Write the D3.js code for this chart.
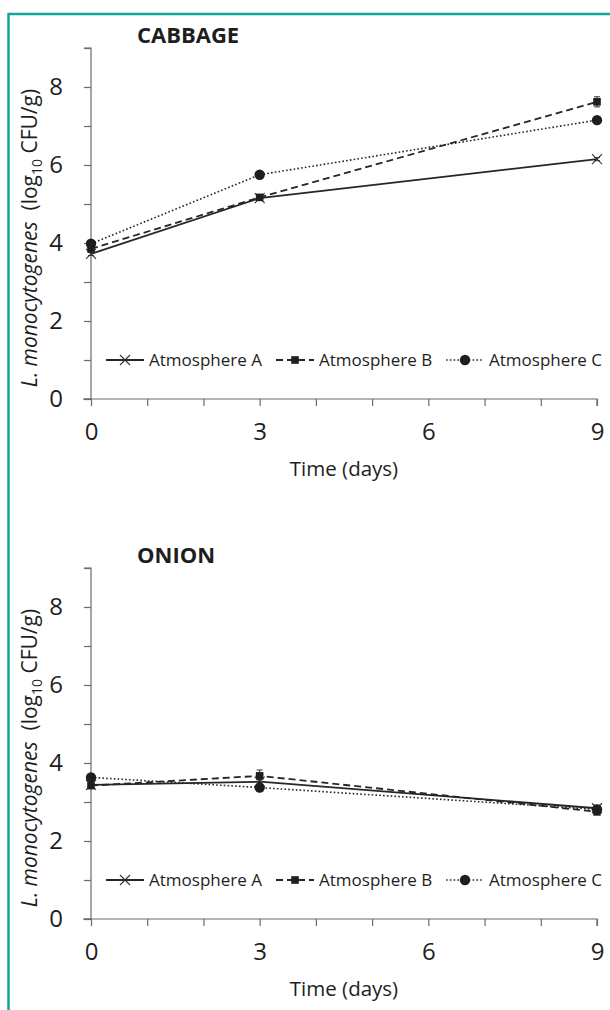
<!DOCTYPE html>
<html>
<head>
<meta charset="utf-8">
<script src="https://cdn.jsdelivr.net/npm/d3@7"></script>
<style>
body{margin:0;background:#fff}
svg{display:block}
text{font-family:"Open Sans",sans-serif;fill:#1e1e1e}
</style>
</head>
<body>
<div id="chart"></div>
<script>
// days sampled
var days = [0,3,9]
var series = ["Atmosphere A","Atmosphere B","Atmosphere C"]

// cabbage, log10 CFU/g
var cabbageA = [3.72,5.15,6.15]
var cabbageB = [3.85,5.17,7.62]
var cabbageC = [3.98,5.75,7.15]
var cabbageErrA = [0.04,0.04,0.04]
var cabbageErrB = [0.05,0.04,0.13]
var cabbageErrC = [0.05,0.03,0.05]

// onion, log10 CFU/g
var onionA = [3.44,3.52,2.84]
var onionB = [3.42,3.67,2.75]
var onionC = [3.63,3.37,2.81]
var onionErrA = [0.04,0.06,0.08]
var onionErrB = [0.06,0.15,0.08]
var onionErrC = [0.05,0.08,0.06]

var xTicks = [0,1,2,3,4,5,6,7,8,9]
var xLabels = [0,3,6,9]
var yTicks = [0,1,2,3,4,5,6,7,8,9]
var yLabels = [0,2,4,6,8]

var width = 610, height = 1010
var svg = d3.select("#chart").append("svg").attr("width",width).attr("height",height)

// teal frame
svg.append("line").attr("x1",8).attr("x2",width).attr("y1",14).attr("y2",14)
  .attr("stroke","#16a594").attr("stroke-width",2.5)
svg.append("line").attr("x1",8.5).attr("x2",8.5).attr("y1",13).attr("y2",height)
  .attr("stroke","#16a594").attr("stroke-width",2.5)

var styles = [
  {dash:null, w:1.8, marker:"x"},
  {dash:"7,4", w:1.8, marker:"square"},
  {dash:"1.6,2.2", w:1.6, marker:"circle"}
]

drawPanel("CABBAGE",[cabbageA,cabbageB,cabbageC],[cabbageErrA,cabbageErrB,cabbageErrC],48)
drawPanel("ONION",[onionA,onionB,onionC],[onionErrA,onionErrB,onionErrC],568)

function drawMarker(g,type,x,y){
  if(type=="x"){
    var s = 5
    g.append("path").attr("d","M"+(x-s)+","+(y-s)+"L"+(x+s)+","+(y+s)+"M"+(x-s)+","+(y+s)+"L"+(x+s)+","+(y-s))
      .attr("stroke","#333").attr("stroke-width",1.1).attr("fill","none")
  }else if(type=="square"){
    g.append("rect").attr("x",x-3.8).attr("y",y-3.8).attr("width",7.6).attr("height",7.6).attr("fill","#1e1e1e")
  }else{
    g.append("circle").attr("cx",x).attr("cy",y).attr("r",5.2).attr("fill","#1e1e1e")
  }
}

function drawPanel(title,values,errs,top){
  var left = 91, right = 597, bottom = top+351
  var x = d3.scaleLinear().domain([0,9]).range([left,right])
  var y = d3.scaleLinear().domain([0,9]).range([bottom,top])
  var g = svg.append("g")

  g.append("text").text(title).attr("x",137).attr("y",top-5)
    .attr("font-size",22).attr("font-weight","bold")

  var yAxis = g.append("g").attr("transform","translate("+left+",0)")
    .call(d3.axisLeft(y).tickValues(yTicks).tickSize(7).tickPadding(21)
      .tickFormat(function(d){return yLabels.indexOf(d)>-1 ? d : ""}))
  var xAxis = g.append("g").attr("transform","translate(0,"+bottom+")")
    .call(d3.axisBottom(x).tickValues(xTicks).tickSize(7).tickPadding(17)
      .tickFormat(function(d){return xLabels.indexOf(d)>-1 ? d : ""}))
  g.selectAll(".domain").attr("stroke","#6b6b6b").attr("stroke-width",1.2)
  g.selectAll(".tick line").attr("stroke","#6b6b6b").attr("stroke-width",1.2)
  g.selectAll(".tick text").attr("font-size",24).attr("font-family","Open Sans").attr("fill","#1e1e1e")
  yAxis.select(".domain").attr("d","M-7,"+y(9)+"H0V"+y(0)+"H-7")
  xAxis.select(".domain").attr("d","M"+(left-8)+",0H"+right+"V7")

  g.append("text").text("Time (days)").attr("x",(left+right)/2).attr("y",bottom+77)
    .attr("text-anchor","middle").attr("font-size",20.5)

  var yl = g.append("text").attr("transform","translate(37,"+(top+190)+") rotate(-90)")
    .attr("text-anchor","middle").attr("font-size",21)
  yl.append("tspan").text("L. monocytogenes").attr("font-style","italic")
  yl.append("tspan").text("\u00a0 (log")
  yl.append("tspan").text("10").attr("font-size",14).attr("dy",5)
  yl.append("tspan").text(" CFU/g)").attr("dy",-5)

  var line = d3.line().x(function(d,i){return x(days[i])}).y(function(d){return y(d)})

  values.forEach(function(vals,k){
    var st = styles[k]
    g.append("path").datum(vals).attr("d",line).attr("fill","none")
      .attr("stroke","#262626").attr("stroke-width",st.w)
      .attr("stroke-dasharray",st.dash)
    vals.forEach(function(v,i){
      var cx = x(days[i]), e = errs[k][i]
      g.append("path").attr("d","M"+(cx-3)+","+y(v+e)+"H"+(cx+3)+"M"+cx+","+y(v+e)+"V"+y(v-e)+"M"+(cx-3)+","+y(v-e)+"H"+(cx+3))
        .attr("stroke","#333").attr("stroke-width",1).attr("fill","none")
      drawMarker(g,st.marker,cx,y(v))
    })
  })

  // legend
  var ly = y(1)
  series.forEach(function(name,k){
    var st = styles[k]
    var lx = 106 + k*170
    g.append("line").attr("x1",lx).attr("x2",lx+38).attr("y1",ly).attr("y2",ly)
      .attr("stroke","#262626").attr("stroke-width",st.w).attr("stroke-dasharray",st.dash)
    drawMarker(g,st.marker,lx+19,ly)
    g.append("text").text(name).attr("x",lx+43).attr("y",ly+6).attr("font-size",17)
  })
}
</script>
</body>
</html>
